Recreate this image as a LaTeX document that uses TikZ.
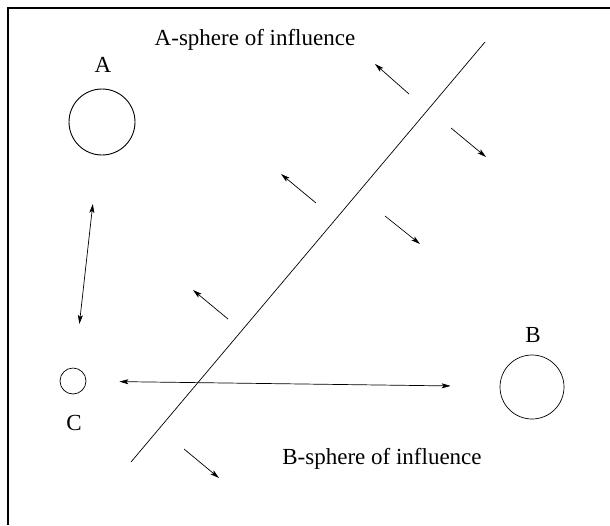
\documentclass[tikz,border=0pt]{standalone}
\usepackage{fontspec}
\setmainfont{Liberation Serif}
\usepackage{tikz}
\usetikzlibrary{arrows.meta}

\begin{document}
\begin{tikzpicture}[
  x=1pt, y=-1pt,
  >={Stealth[length=9pt,width=5pt,inset=2pt]},
  sphere/.style={
    draw,
    circle,
    inner sep=0pt,
    line width=0.9pt
  },
  tag/.style={
    font=\fontsize{23}{27}\selectfont,
    inner sep=0pt
  },
  push/.style={
    ->,
    line width=0.7pt
  }
]
  \useasboundingbox (0,0) rectangle (610,525);

  % frame
  \draw[line width=1.2pt] (8,525) -- (8,8) -- (610,8);

  % Agents
  \node[sphere, minimum size=66pt] (circA) at (102,122) {};
  \node[sphere, minimum size=64pt, line width=0.7pt] (circB) at (532,387) {};
  \node[sphere, minimum size=26pt, line width=0.7pt] (circC) at (73,381) {};

  \node[tag] (labA) at (103,65) {A};
  \node[tag] (labB) at (533,335) {B};
  \node[tag] (labC) at (74,423) {C};

  % Spheres of influence
  \node[tag] (infA) at (255,40) {A-sphere of influence};
  \node[tag] (infB) at (382,459) {B-sphere of influence};

  % Boundary between the two spheres
  \coordinate (bndTop) at (485,42);
  \coordinate (bndBot) at (131,462);
  \draw[line width=0.7pt] (bndTop) -- (bndBot);

  % Interactions
  \draw[<->, line width=0.7pt, shorten <=49pt, shorten >=44pt] (circA) -- (circC);
  \draw[<->, line width=0.7pt, shorten <=33pt, shorten >=49pt] (circC) -- (circB);

  % Pushes towards A
  \draw[push] (409,94) -- (375,64);
  \draw[push] (316,203) -- (281,174);
  \draw[push] (228,319) -- (193,290);

  % Pushes towards B
  \draw[push] (451,128) -- (486,157);
  \draw[push] (385,216) -- (420,244);
  \draw[push] (184,449) -- (219,478);

\end{tikzpicture}
\end{document}
